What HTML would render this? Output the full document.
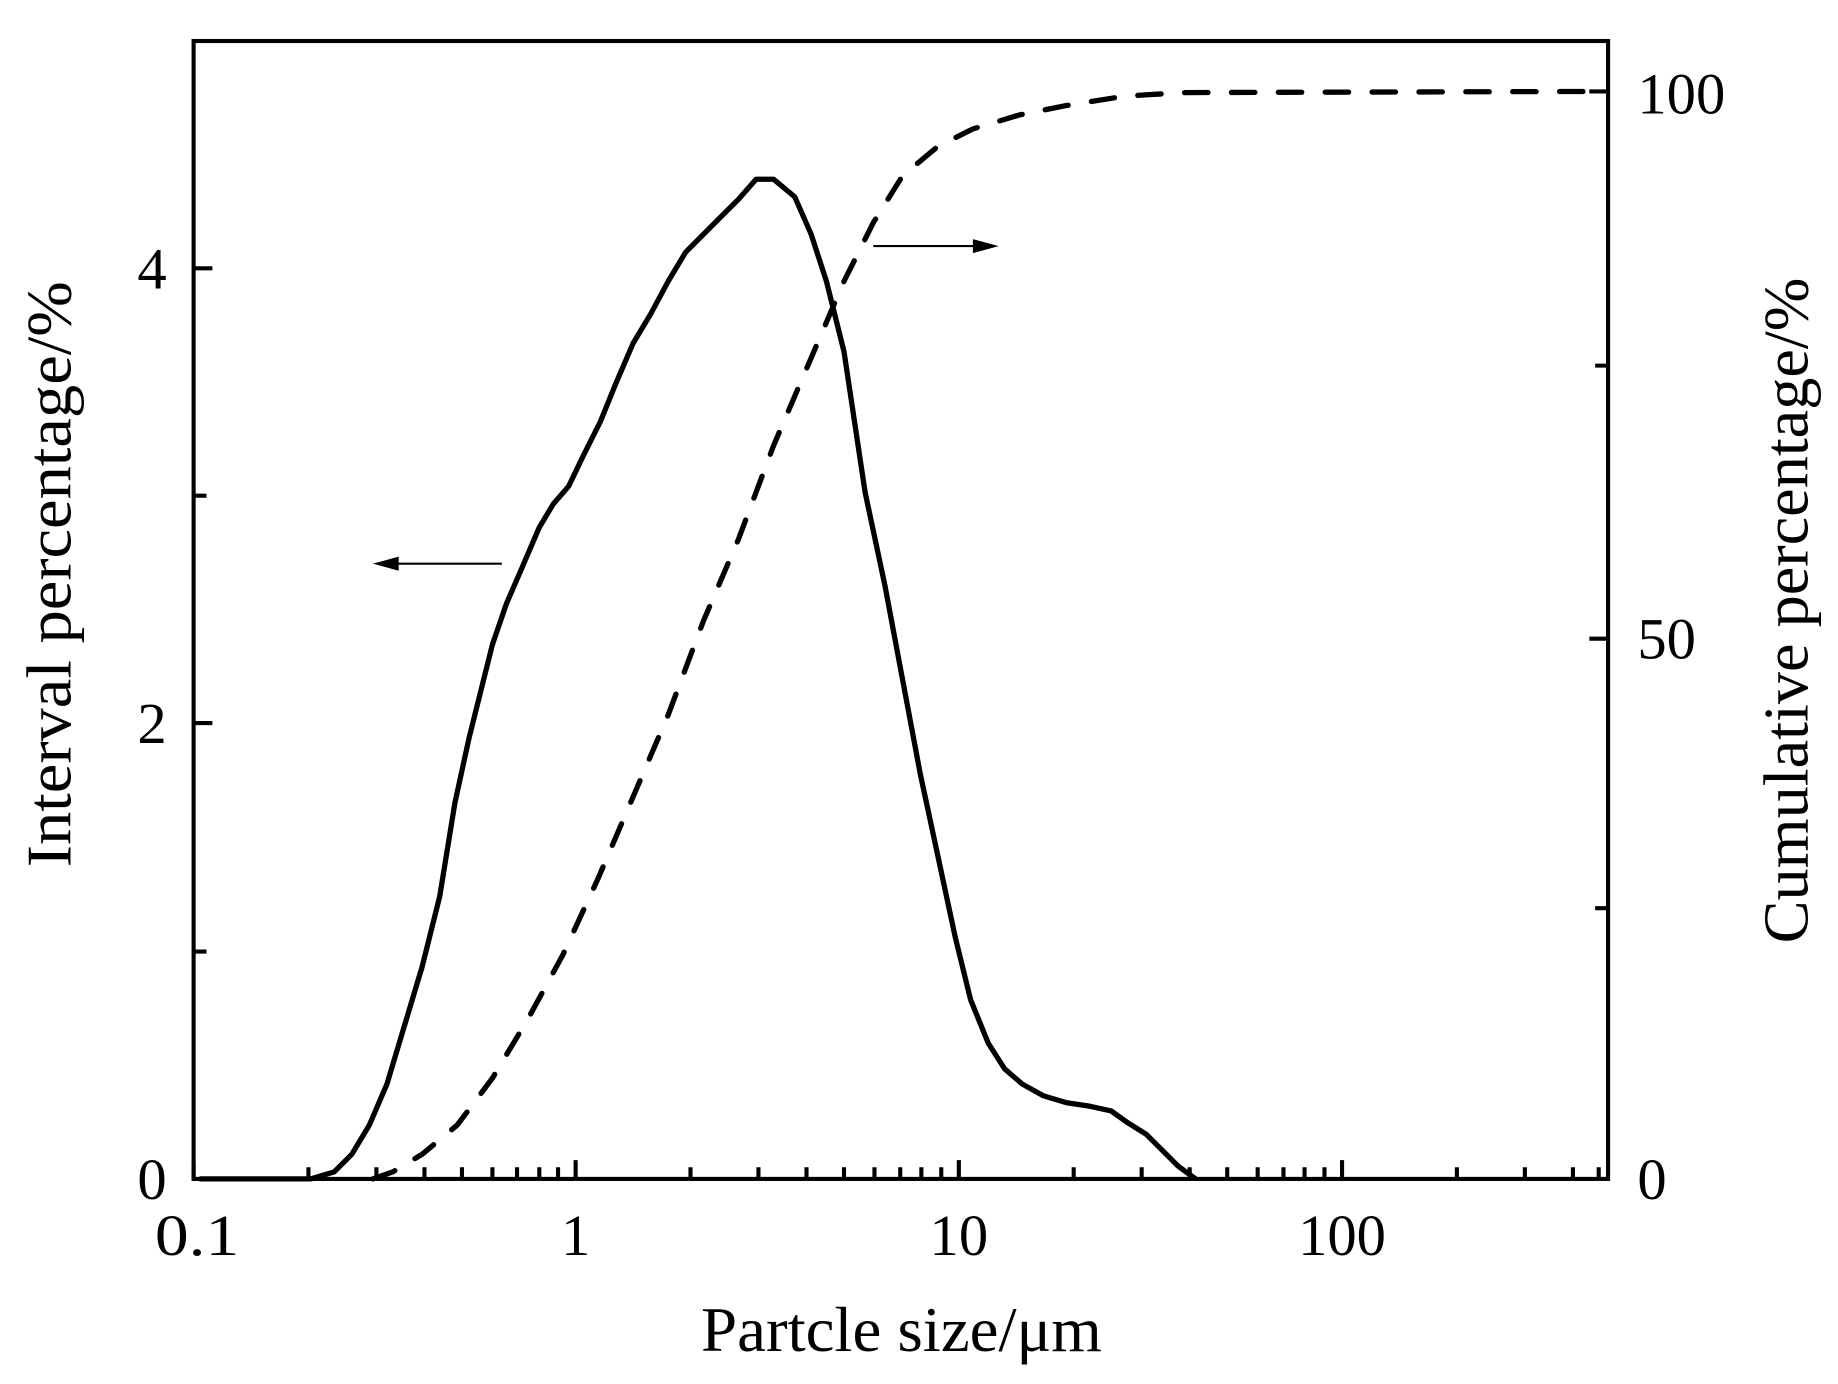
<!DOCTYPE html>
<html><head><style>html,body{margin:0;padding:0;background:#fff}svg{display:block}</style></head>
<body>
<svg width="1838" height="1384" viewBox="0 0 1568 1181" xmlns="http://www.w3.org/2000/svg" font-family="Liberation Serif, serif">
<rect width="1568" height="1181" fill="#fff"/>
<g stroke="#000" stroke-width="3.5" fill="none">
<rect x="165" y="35" width="1207" height="971"/>
<path d="M165,1006v-14 M491,1006v-16 M818,1006v-16 M1145,1006v-16
M263,1006v-10 M321,1006v-10 M362,1006v-10 M394,1006v-10 M420,1006v-10 M441,1006v-10 M460,1006v-10 M476,1006v-10
M589,1006v-10 M647,1006v-10 M688,1006v-10 M720,1006v-10 M746,1006v-10 M768,1006v-10 M786,1006v-10 M803,1006v-10
M916,1006v-10 M974,1006v-10 M1015,1006v-10 M1047,1006v-10 M1073,1006v-10 M1095,1006v-10 M1113,1006v-10 M1130,1006v-10
M1243,1006v-10 M1301,1006v-10 M1342,1006v-10 M1364,1006v-10"/>
<path d="M165,617h16 M165,229h16 M165,812h11 M165,423h11"/>
<path d="M1372,78h-16 M1372,545h-16 M1372,312h-11 M1372,775h-11"/>
</g>
<polyline fill="none" stroke="#000" stroke-width="4.5" stroke-linejoin="round" points="170,1006 265,1006 285,1000 300,985 315,960 330,925 345,875 360,825 375,765 388,685 400,630 410,590 420,550 432,515 445,485 460,450 472,430 485,415 497,390 512,360 525,328 540,293 555,268 570,240 585,215 600,200 615,185 630,170 645,153 660,153 678,168 692,200 705,240 720,300 738,420 755,500 770,580 785,660 800,730 815,800 828,853 843,890 857,912 872,925 890,935 910,941 930,944 948,948 962,958 978,968 992,982 1005,995 1020,1006"/>
<polyline fill="none" stroke="#000" stroke-width="4.5" stroke-dasharray="20 20" stroke-linecap="round" points="318,1006 335,1000 360,985 390,960 420,920 450,870 480,815 510,750 540,680 570,610 600,530 630,460 660,380 690,310 720,240 745,190 770,150 800,125 830,110 870,98 910,90 960,82 1010,79 1370,78"/>
<g stroke="#000" stroke-width="1.8">
<line x1="428" y1="481" x2="330" y2="481"/>
<line x1="745" y1="210" x2="838" y2="210"/>
</g>
<polygon points="318,481 340,475 340,487" fill="#000"/>
<polygon points="852,210 830,204 830,216" fill="#000"/>
<g font-size="50" fill="#000">
<text x="168" y="1071" text-anchor="middle" textLength="72" lengthAdjust="spacingAndGlyphs">0.1</text>
<text x="491" y="1071" text-anchor="middle">1</text>
<text x="818" y="1071" text-anchor="middle">10</text>
<text x="1145" y="1071" text-anchor="middle">100</text>
<text x="142" y="1023" text-anchor="end">0</text>
<text x="142" y="634" text-anchor="end">2</text>
<text x="142" y="246" text-anchor="end">4</text>
<text x="1397" y="1023">0</text>
<text x="1397" y="562">50</text>
<text x="1397" y="97">100</text>
</g>
<g font-size="54" fill="#000">
<text x="769" y="1153" text-anchor="middle" textLength="342" lengthAdjust="spacingAndGlyphs">Partcle size/μm</text>
<text transform="translate(60,490) rotate(-90)" text-anchor="middle" textLength="500" lengthAdjust="spacingAndGlyphs">Interval percentage/%</text>
<text transform="translate(1542,521) rotate(-90)" text-anchor="middle" textLength="568" lengthAdjust="spacingAndGlyphs">Cumulative percentage/%</text>
</g>
</svg>
</body></html>
